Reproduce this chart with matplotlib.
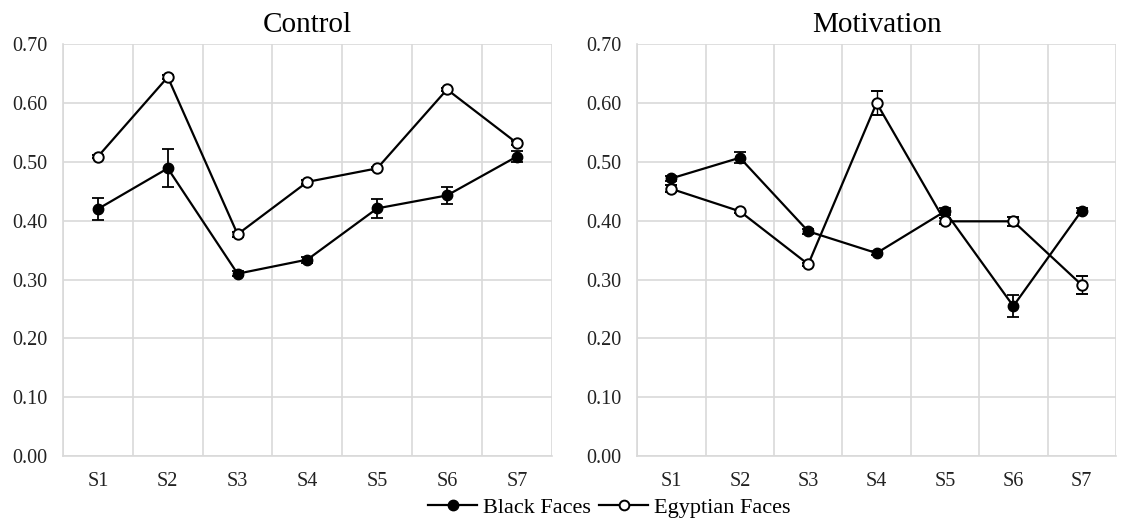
import numpy as np
import matplotlib.pyplot as plt
from matplotlib.lines import Line2D

sessions = ["S1", "S2", "S3", "S4", "S5", "S6", "S7"]

# Control
control_black = [0.420, 0.489, 0.310, 0.334, 0.421, 0.443, 0.509]
control_black_err = [0.019, 0.032, 0.004, 0.005, 0.016, 0.015, 0.010]
control_egypt = [0.509, 0.644, 0.377, 0.466, 0.489, 0.623, 0.532]
control_egypt_err = [0.003, 0.003, 0.004, 0.004, 0.003, 0.003, 0.004]

# Motivation
motiv_black = [0.472, 0.507, 0.382, 0.345, 0.416, 0.255, 0.417]
motiv_black_err = [0.004, 0.009, 0.004, 0.004, 0.006, 0.019, 0.004]
motiv_egypt = [0.454, 0.416, 0.326, 0.600, 0.399, 0.399, 0.291]
motiv_egypt_err = [0.006, 0.003, 0.003, 0.021, 0.005, 0.008, 0.015]

plt.rcParams['font.family'] = ['Liberation Serif', 'DejaVu Serif']

fig = plt.figure(figsize=(11.26, 5.25), dpi=100)
ax1 = fig.add_axes([0.056, 0.131, 0.434, 0.785])
ax2 = fig.add_axes([0.566, 0.131, 0.425, 0.785])

panels = [
    (ax1, "Control", control_black, control_black_err, control_egypt, control_egypt_err),
    (ax2, "Motivation", motiv_black, motiv_black_err, motiv_egypt, motiv_egypt_err),
]

x = np.arange(len(sessions))
for ax, title, blk, blk_e, egy, egy_e in panels:
    ax.errorbar(x, blk, yerr=blk_e, color='black', marker='o', markersize=7.5,
                markerfacecolor='black', linewidth=1.6, capsize=4, elinewidth=1.3,
                capthick=1.3, zorder=3)
    ax.errorbar(x, egy, yerr=egy_e, color='black', marker='o', markersize=7.5,
                markerfacecolor='white', markeredgewidth=1.4, linewidth=1.6,
                capsize=4, elinewidth=1.0, capthick=1.0, zorder=4)
    ax.set_xlim(-0.5, 6.5)
    ax.set_ylim(0, 0.70)
    ax.set_yticks(np.arange(0, 0.71, 0.1))
    ax.set_yticklabels([f"{v:.2f}" for v in np.arange(0, 0.71, 0.1)])
    ax.set_xticks(x)
    ax.set_xticklabels(sessions)
    ax.set_xticks(np.arange(-0.5, 7, 1), minor=True)
    ax.grid(True, which='major', axis='y', color='#d9d9d9', linewidth=1.2)
    ax.grid(True, which='minor', axis='x', color='#d9d9d9', linewidth=1.2)
    ax.tick_params(which='both', length=0, colors='#222222')
    ax.tick_params(axis='x', pad=11, labelsize=14.5)
    ax.tick_params(axis='y', pad=11.5, labelsize=14.5)
    for s in ['top', 'right']:
        ax.spines[s].set_visible(False)
    for s in ['left', 'bottom']:
        ax.spines[s].set_color('#d9d9d9')
        ax.spines[s].set_linewidth(1.2)
    ax.set_axisbelow(True)
    ax.set_title(title, fontsize=21, pad=9)

handles = [
    Line2D([], [], color='black', marker='o', markersize=7.5, markerfacecolor='black', linewidth=1.6),
    Line2D([], [], color='black', marker='o', markersize=7, markerfacecolor='white',
           markeredgewidth=1.4, linewidth=1.6),
]
fig.legend(handles, ["Black Faces", "Egyptian Faces"], loc='center', ncol=2,
           bbox_to_anchor=(0.541, 0.033), frameon=False, fontsize=16,
           handlelength=2.2, handletextpad=0.25, columnspacing=0.4)

fig.savefig("out.png", dpi=100)
